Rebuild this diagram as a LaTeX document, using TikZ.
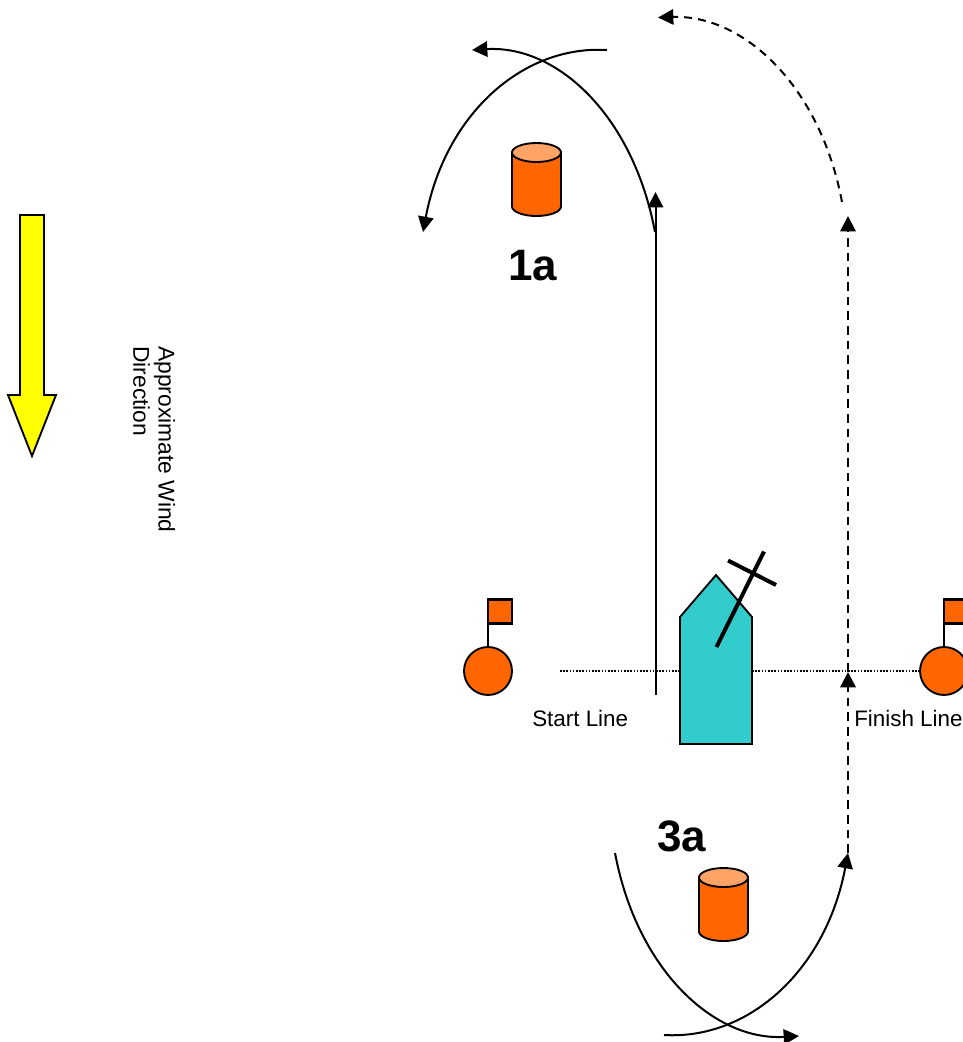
\documentclass[tikz,border=0pt]{standalone}
\usepackage{fontspec}
\setmainfont{Liberation Sans}
\usepackage{tikz}
\usetikzlibrary{arrows.meta,positioning}
\definecolor{buoyorange}{HTML}{FF6600}
\definecolor{buoytop}{HTML}{FFA366}
\definecolor{hullteal}{HTML}{33CCCC}
\definecolor{windyellow}{HTML}{FFFF00}
\tikzset{arr/.style={draw, -{Triangle[length=11.5pt,width=11.5pt]}, line width=1.5pt}}
\tikzset{dasharr/.style={arr, dash pattern=on 6.5pt off 4.5pt}}
\tikzset{drumshape/.pic={
    \draw[line width=1.4pt, fill=buoyorange] (-24.5,-27) -- (-24.5,27) arc[start angle=180,end angle=360,x radius=18.375pt,y radius=7.125pt] -- (24.5,-27) -- cycle;
    \draw[line width=1.4pt, fill=buoytop] (0,-27) ellipse[x radius=18.375pt,y radius=7.125pt];
}}
\tikzset{ball/.style={draw, circle, line width=1.4pt, fill=buoyorange, minimum size=36pt, inner sep=0pt, outer sep=0pt}}
\tikzset{flag/.style={draw, line width=1.8pt, fill=buoyorange, minimum size=18pt, inner sep=0pt, outer sep=0pt}}
\tikzset{lbl/.style={inner sep=0pt, font=\fontsize{16.8}{19}\selectfont}}
\tikzset{bignum/.style={inner sep=0pt, font=\fontsize{33}{36}\selectfont\bfseries}}

\begin{document}
\begin{tikzpicture}[x=0.75pt,y=-0.75pt]
    \clip (0,0) rectangle (963,1042);
    \node[lbl, font=\fontsize{17.1}{19}\selectfont, rotate=-90, anchor=north west, align=left] (winddir) at (175.5,346) {Approximate Wind\\Direction};
    \draw[line width=1.4pt, fill=windyellow] (20,215) -- (44,215) -- (44,395) -- (56,395) -- (32,456) -- (8,395) -- (20,395) -- cycle;

    % marks on the line
    \node[ball] (startball) at (488,671){};
    \node[ball] (finishball) at (944,671){};
    \node[flag] (startflag) at (500,611.5){};
    \node[flag] (finishflag) at (956,611.5){};
    \draw[line width=1.8pt] (startball) -- (startflag.south west);
    \draw[line width=1.8pt] (finishball) -- (finishflag.south west);
    \coordinate (linestart) at (560,671);
    \draw[line width=1.2pt, dash pattern=on 1.2pt off 1.2pt] (linestart) -- (finishball.west);

    \pic (drumA) at (536.5,179.5) {drumshape};
    \pic (drumC) at (723.5,904.5) {drumshape};
    \node[bignum, anchor=base west] (labA) at (508,280){1a};
    \node[bignum, anchor=base west] (labC) at (657,851){3a};
    \node[lbl, anchor=base west] (startlab) at (532,726){Start Line};
    \node[lbl, anchor=base west] (finishlab) at (854,726){Finish Line};

    % boat
    \draw[line width=1.4pt, fill=hullteal] (680,617) -- (716,575) -- (752,617) -- (752,744) -- (680,744) -- cycle;
    \draw[line width=3pt] (716.5,647) -- (764,551.5);
    \draw[line width=3pt] (728,560.5) -- (776,585);

    % course
    \coordinate (upfrom) at (655.5,695);
    \coordinate (upto) at (655.5,192);
    \coordinate (rightA) at (655,232);
    \coordinate (leftAend) at (472,50);
    \coordinate (overA) at (607,50);
    \coordinate (downA) at (423,232);
    \coordinate (backfrom) at (848,853);
    \coordinate (backmid) at (848,672);
    \coordinate (backto) at (848,216);
    \coordinate (dashfrom) at (842,202);
    \coordinate (dashto) at (658,17.5);
    \coordinate (leftC) at (615,853);
    \coordinate (rightCend) at (799,1036);
    \coordinate (underC) at (664,1035);

    \draw[arr] (upfrom) -- (upto);
    \draw[arr] (rightA) .. controls +(-22,-117) and +(85,-5) .. (leftAend);
    \draw[arr] (overA) .. controls +(-85,-5) and +(22,-117) .. (downA);
    \draw[dasharr, line width=1.9pt] (backfrom) -- (backmid);
    \draw[dasharr] (backmid) -- (backto);
    \draw[arr, dash pattern=on 6pt off 4.5pt] (dashfrom) .. controls +(-22,-117) and +(85,-3) .. (dashto);
    \draw[arr] (leftC) .. controls +(22,117) and +(-85,5) .. (rightCend);
    \draw[arr] (underC) .. controls +(85,5) and +(-22,117) .. (backfrom);
\end{tikzpicture}
\end{document}
